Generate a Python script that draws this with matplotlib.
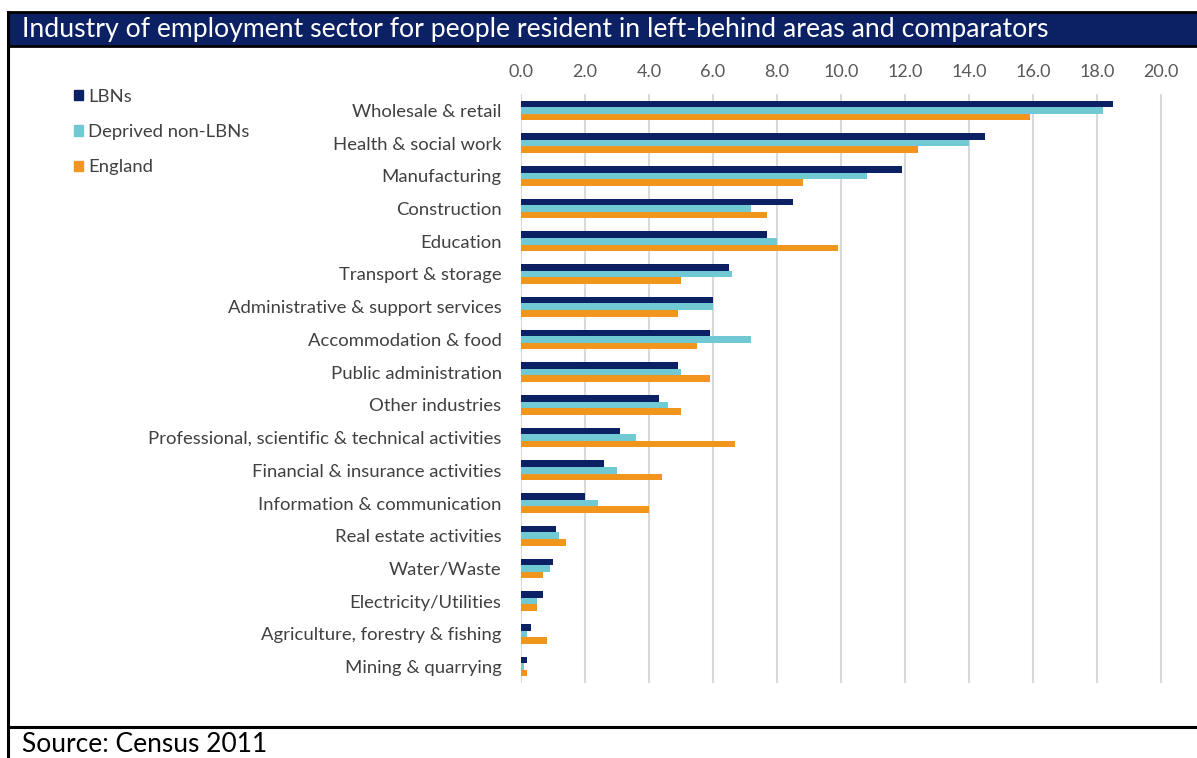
import numpy as np
import matplotlib
matplotlib.use("Agg")
import matplotlib.pyplot as plt
from matplotlib.patches import Patch, Rectangle

plt.rcParams['font.family'] = ['Lato', 'DejaVu Sans']

# Share of employment by industry (%), Census 2011
industries = [
    "Wholesale & retail",
    "Health & social work",
    "Manufacturing",
    "Construction",
    "Education",
    "Transport & storage",
    "Administrative & support services",
    "Accommodation & food",
    "Public administration",
    "Other industries",
    "Professional, scientific & technical activities",
    "Financial & insurance activities",
    "Information & communication",
    "Real estate activities",
    "Water/Waste",
    "Electricity/Utilities",
    "Agriculture, forestry & fishing",
    "Mining & quarrying",
]
lbns = [18.5, 14.5, 11.9, 8.5, 7.7, 6.5, 6.0, 5.9, 4.9, 4.3,
        3.1, 2.6, 2.0, 1.1, 1.0, 0.7, 0.3, 0.2]
deprived_non_lbns = [18.2, 14.0, 10.8, 7.2, 8.0, 6.6, 6.0, 7.2, 5.0, 4.6,
                     3.6, 3.0, 2.4, 1.2, 0.9, 0.5, 0.2, 0.1]
england = [15.9, 12.4, 8.8, 7.7, 9.9, 5.0, 4.9, 5.5, 5.9, 5.0,
           6.7, 4.4, 4.0, 1.4, 0.7, 0.5, 0.8, 0.2]
series_names = ["LBNs", "Deprived non-LBNs", "England"]
xticks = np.arange(0, 21, 2)

navy = "#0b2163"
cyan = "#71cad3"
orange = "#f0961c"
grey_text = "#404040"

W, H = 1197, 758
fig = plt.figure(figsize=(W / 100, H / 100), dpi=100)

# page furniture drawn in pixel units
bg = fig.add_axes([0, 0, 1, 1], zorder=0)
bg.set_xlim(0, W)
bg.set_ylim(H, 0)
bg.axis("off")
bg.add_patch(Rectangle((8, 12), W, 34, facecolor=navy, edgecolor="black", lw=2))
bg.plot([8, 8], [12, H], color="black", lw=2.2)
bg.plot([8, W], [727, 727], color="black", lw=2.2)
bg.text(22, 30, "Industry of employment sector for people resident in left-behind areas and comparators",
        color="white", fontsize=19.2, va="center", ha="left")
bg.text(22, 745, "Source: Census 2011", color="black", fontsize=19, va="center", ha="left")

x0, px_per_unit = 521, 32
xmax = 20.4
top, bottom = 94, 683
ax = fig.add_axes([x0 / W, 1 - bottom / H, xmax * px_per_unit / W, (bottom - top) / H], zorder=1)
ax.patch.set_alpha(0)

y = np.arange(len(industries))
h = 0.2
ax.barh(y - h, lbns, height=h, color=navy, label=series_names[0], zorder=3)
ax.barh(y, deprived_non_lbns, height=h, color=cyan, label=series_names[1], zorder=3)
ax.barh(y + h, england, height=h, color=orange, label=series_names[2], zorder=3)

ax.set_ylim(len(industries) - 0.5, -0.5)
ax.set_xlim(0, xmax)
ax.set_yticks(y)
ax.set_yticklabels(industries, fontsize=13.3, color=grey_text)
ax.set_xticks(xticks)
ax.set_xticklabels([f"{v:.1f}" for v in xticks], fontsize=13, color="#595959")
ax.xaxis.tick_top()
ax.tick_params(axis="x", length=0, pad=10)
ax.tick_params(axis="y", length=0, pad=14)
ax.grid(axis="x", color="#d9d9d9", lw=1.5, zorder=0)
for s in ax.spines.values():
    s.set_visible(False)

handles = [Patch(color=c) for c in (navy, cyan, orange)]
fig.legend(handles, series_names, loc="upper left", bbox_to_anchor=(57 / W, 1 - 72 / H),
           frameon=False, fontsize=13.3, handlelength=0.5, handleheight=0.5,
           handletextpad=0.3, labelspacing=1.05, labelcolor=grey_text)

fig.savefig("out.png", dpi=100)
